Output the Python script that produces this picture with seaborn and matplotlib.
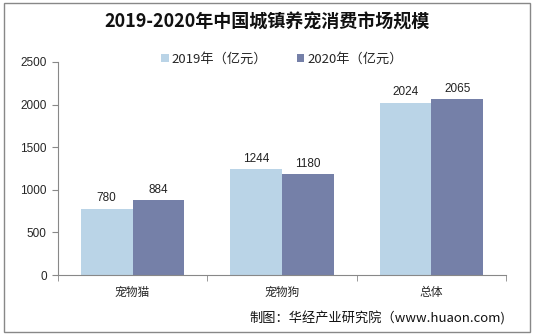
import matplotlib
matplotlib.use("Agg")
import matplotlib.pyplot as plt
import seaborn as sns
import pandas as pd
from matplotlib.patches import Rectangle

categories = ["宠物猫", "宠物狗", "总体"]
series_names = ["2019年（亿元）", "2020年（亿元）"]
values_2019 = [780, 1244, 2024]
values_2020 = [884, 1180, 2065]
y_ticks = [0, 500, 1000, 1500, 2000, 2500]

df = pd.DataFrame({
    "cat": categories * 2,
    "series": [series_names[0]] * 3 + [series_names[1]] * 3,
    "value": values_2019 + values_2020,
})

sns.set_style("white")
plt.rcParams['font.family'] = ['Noto Sans CJK SC', 'DejaVu Sans']

fig = plt.figure(figsize=(5.35, 3.35), dpi=100)
ax = fig.add_axes([0.108, 0.179, 0.838, 0.636])

palette = ["#BAD4E7", "#7580A8"]
sns.barplot(data=df, x="cat", y="value", hue="series", palette=palette,
            width=0.69, ax=ax, saturation=1, legend=True, linewidth=0, edgecolor="none")

for cont in ax.containers:
    ax.bar_label(cont, fmt="%d", padding=3, fontsize=8.5, color="#222222",
                 family=["Liberation Sans", "DejaVu Sans"])

ax.set_ylim(0, 2500)
ax.set_yticks(y_ticks)
ax.set_xlim(-0.5, 2.5)
ax.set_xlabel("")
ax.set_ylabel("")
for lab in ax.get_yticklabels():
    lab.set_family(["Liberation Sans", "DejaVu Sans"])
ax.tick_params(axis="y", labelsize=8.5, length=4, color="#888888", direction="out", left=True, pad=4)
ax.tick_params(axis="x", labelsize=8.5, length=0, pad=8)
ax.set_xticks([-0.5, 0.5, 1.5, 2.5], minor=True)
ax.tick_params(axis="x", which="minor", length=4, color="#888888", direction="out", bottom=True)
for s in ["top", "right"]:
    ax.spines[s].set_visible(False)
for s in ["left", "bottom"]:
    ax.spines[s].set_color("#888888")
    ax.spines[s].set_linewidth(0.8)

leg = ax.legend(loc="upper center", bbox_to_anchor=(0.5, 1.1), ncol=2, frameon=False,
                fontsize=9.5, handlelength=0.6, handleheight=0.6, handletextpad=0.2,
                columnspacing=2.2)
fig.text(0.5, 0.935, "2019-2020年中国城镇养宠消费市场规模", ha="center", va="center",
         fontsize=13, fontweight="bold", color="#111111")
fig.text(0.945, 0.05, "制图：华经产业研究院（www.huaon.com)", ha="right", va="center",
         fontsize=9.5, color="#111111")

fig.patches.append(Rectangle((0.007, 0.008), 0.984, 0.982, transform=fig.transFigure,
                             fill=False, edgecolor="#888888", linewidth=1))

fig.savefig("out.png", dpi=100)
